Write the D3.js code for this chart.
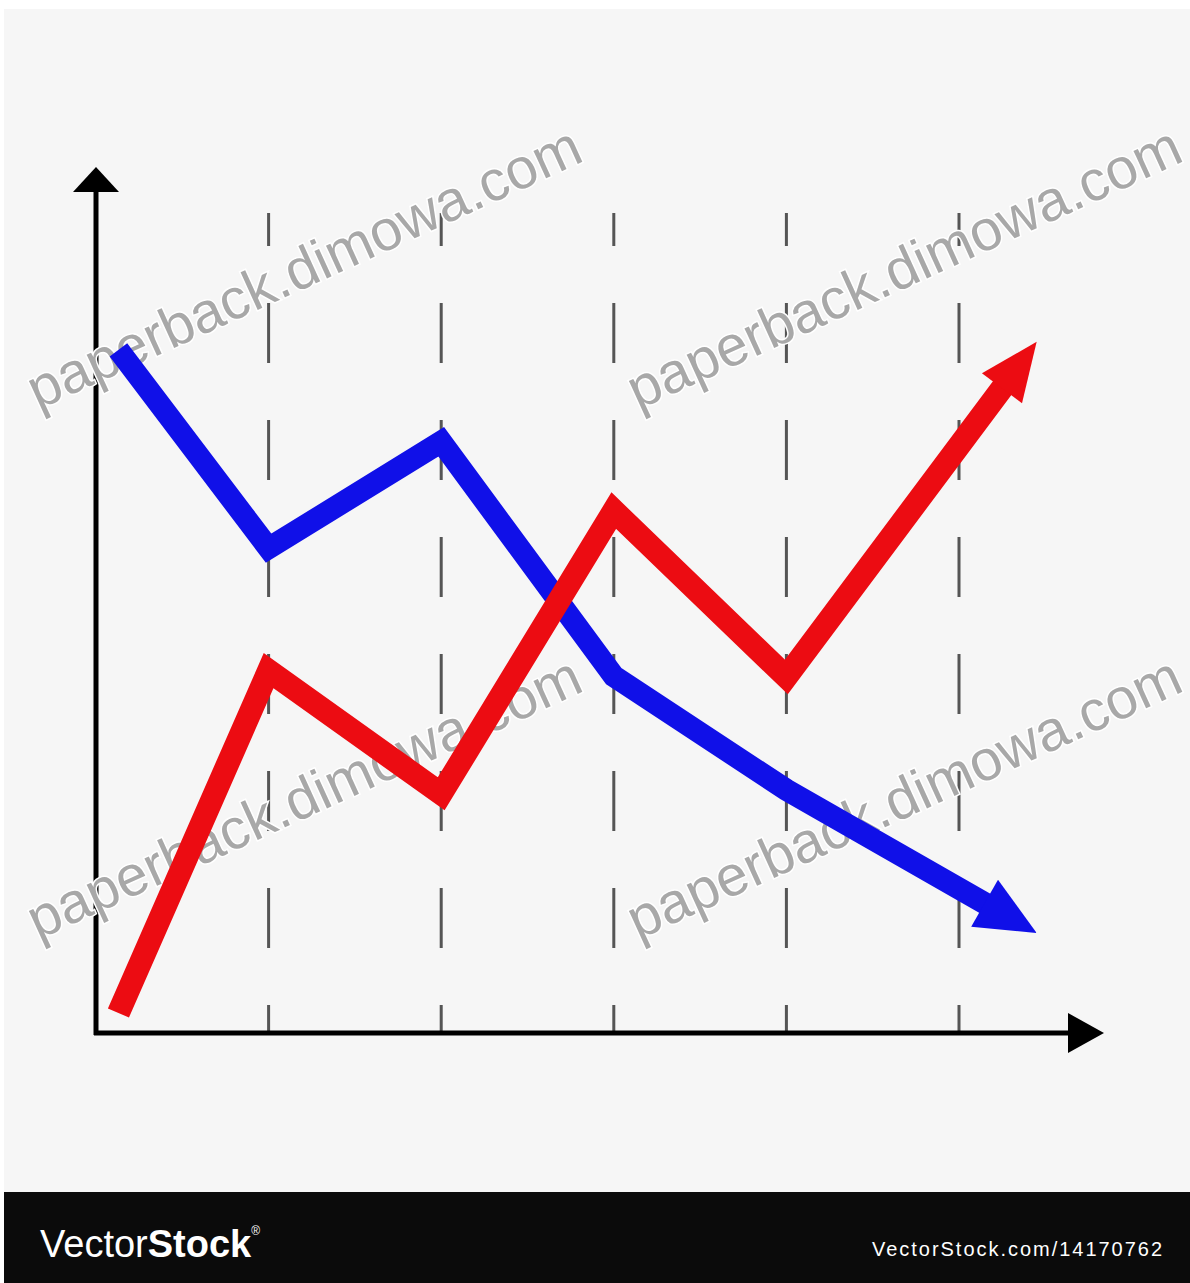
<!DOCTYPE html>
<html lang="en">
<head>
  <meta charset="UTF-8">
  <title>Two trend lines</title>
  <style>
    body { margin: 0; background: #fff; }
    svg { display: block; }
    .wm { font-family: "Liberation Sans", Arial, sans-serif; font-size: 57px; fill: #a8a8a8; stroke: #fff; stroke-width: 3px; paint-order: stroke; }
    .brand { font-family: "Liberation Sans Narrow", "Liberation Sans", sans-serif; fill: #fff; }
  </style>
</head>
<body>
  <svg width="1190" height="1283"></svg>
  <script src="https://d3js.org/d3.v7.min.js"></script>
  <script>
    const width = 1190, height = 1283;

    // data (x in grid steps, y on a 0-100 scale)
    const gridSteps = [1, 2, 3, 4, 5];
    const blueX = [0.13, 1, 2, 3, 4, 5.45];
    const blueValues = [85.4, 60.6, 73.9, 44.6, 30.4, 12.5];
    const redX = [0.13, 1, 2, 3, 4, 5.45];
    const redValues = [2.5, 45.3, 29.9, 65.3, 44.5, 86.4];
    const watermark = "paperback.dimowa.com";

    const svg = d3.select("svg")
      .attr("width", width)
      .attr("height", height);

    // panel background
    svg.append("rect")
      .attr("x", 4).attr("y", 9)
      .attr("width", width - 4).attr("height", 1183)
      .attr("fill", "#f6f6f6");

    const x = d3.scaleLinear().domain([0, 5]).range([96, 959]);
    const y = d3.scaleLinear().domain([0, 100]).range([1033, 233]);

    // dashed verticals
    svg.append("g")
      .selectAll("line")
      .data(gridSteps)
      .join("line")
      .attr("x1", d => x(d)).attr("x2", d => x(d))
      .attr("y1", 213).attr("y2", 1031)
      .attr("stroke", "#555")
      .attr("stroke-width", 3)
      .attr("stroke-dasharray", "60,57")
      .attr("stroke-dashoffset", 27);

    // axes with arrow heads
    const axes = svg.append("g");
    axes.append("line")
      .attr("x1", x(0)).attr("x2", x(0))
      .attr("y1", y(0) + 2).attr("y2", 188)
      .attr("stroke", "#000").attr("stroke-width", 5);
    axes.append("line")
      .attr("x1", x(0) - 2).attr("x2", 1070)
      .attr("y1", y(0)).attr("y2", y(0))
      .attr("stroke", "#000").attr("stroke-width", 5);
    axes.append("path")
      .attr("d", `M${x(0)},167 L${x(0) + 23},192 L${x(0) - 23},192 Z`)
      .attr("fill", "#000");
    axes.append("path")
      .attr("d", `M1104,${y(0)} L1068,${y(0) - 20} L1068,${y(0) + 20} Z`)
      .attr("fill", "#000");

    // watermarks
    const wmPos = [[38, 410], [638, 410], [38, 940], [638, 940]];
    svg.append("g")
      .selectAll("text")
      .data(wmPos)
      .join("text")
      .attr("class", "wm")
      .attr("transform", d => `translate(${d[0]},${d[1]}) rotate(-24.5)`)
      .attr("textLength", 602)
      .text(watermark);

    // series lines ending in an arrow head
    function drawArrowLine(xs, ys, color, lineW, headLen, headW) {
      const pts = xs.map((v, i) => [x(v), y(ys[i])]);
      const tip = pts[pts.length - 1];
      const prev = pts[pts.length - 2];
      const dx = tip[0] - prev[0], dy = tip[1] - prev[1];
      const len = Math.hypot(dx, dy);
      const ux = dx / len, uy = dy / len;
      const base = [tip[0] - ux * headLen, tip[1] - uy * headLen];
      const linePts = pts.slice(0, -1).concat([[base[0] + ux * 10, base[1] + uy * 10]]);

      svg.append("path")
        .attr("d", d3.line()(linePts))
        .attr("fill", "none")
        .attr("stroke", color)
        .attr("stroke-width", lineW)
        .attr("stroke-linejoin", "miter")
        .attr("stroke-miterlimit", 10)
        .attr("stroke-linecap", "butt");

      const nx = -uy, ny = ux;
      svg.append("path")
        .attr("d", `M${tip[0]},${tip[1]} L${base[0] + nx * headW / 2},${base[1] + ny * headW / 2} L${base[0] - nx * headW / 2},${base[1] - ny * headW / 2} Z`)
        .attr("fill", color);
    }

    drawArrowLine(blueX, blueValues, "#1010e8", 22, 60, 54);
    drawArrowLine(redX, redValues, "#ec0c12", 23, 58, 50);

    // bottom brand band
    svg.append("rect")
      .attr("x", 4).attr("y", 1192)
      .attr("width", width - 4).attr("height", height - 1192)
      .attr("fill", "#0b0b0b");

    const logo = svg.append("text")
      .attr("class", "brand")
      .attr("x", 40).attr("y", 1257)
      .attr("font-size", 38);
    logo.append("tspan").attr("font-weight", "normal").text("Vector");
    logo.append("tspan").attr("font-weight", "bold").text("Stock");
    logo.append("tspan").attr("font-size", 12).attr("dy", -22).text("®");

    svg.append("text")
      .attr("class", "brand")
      .attr("x", 1162).attr("y", 1256)
      .attr("text-anchor", "end")
      .attr("font-size", 20)
      .attr("textLength", 290)
      .text("VectorStock.com/14170762");
  </script>
</body>
</html>
